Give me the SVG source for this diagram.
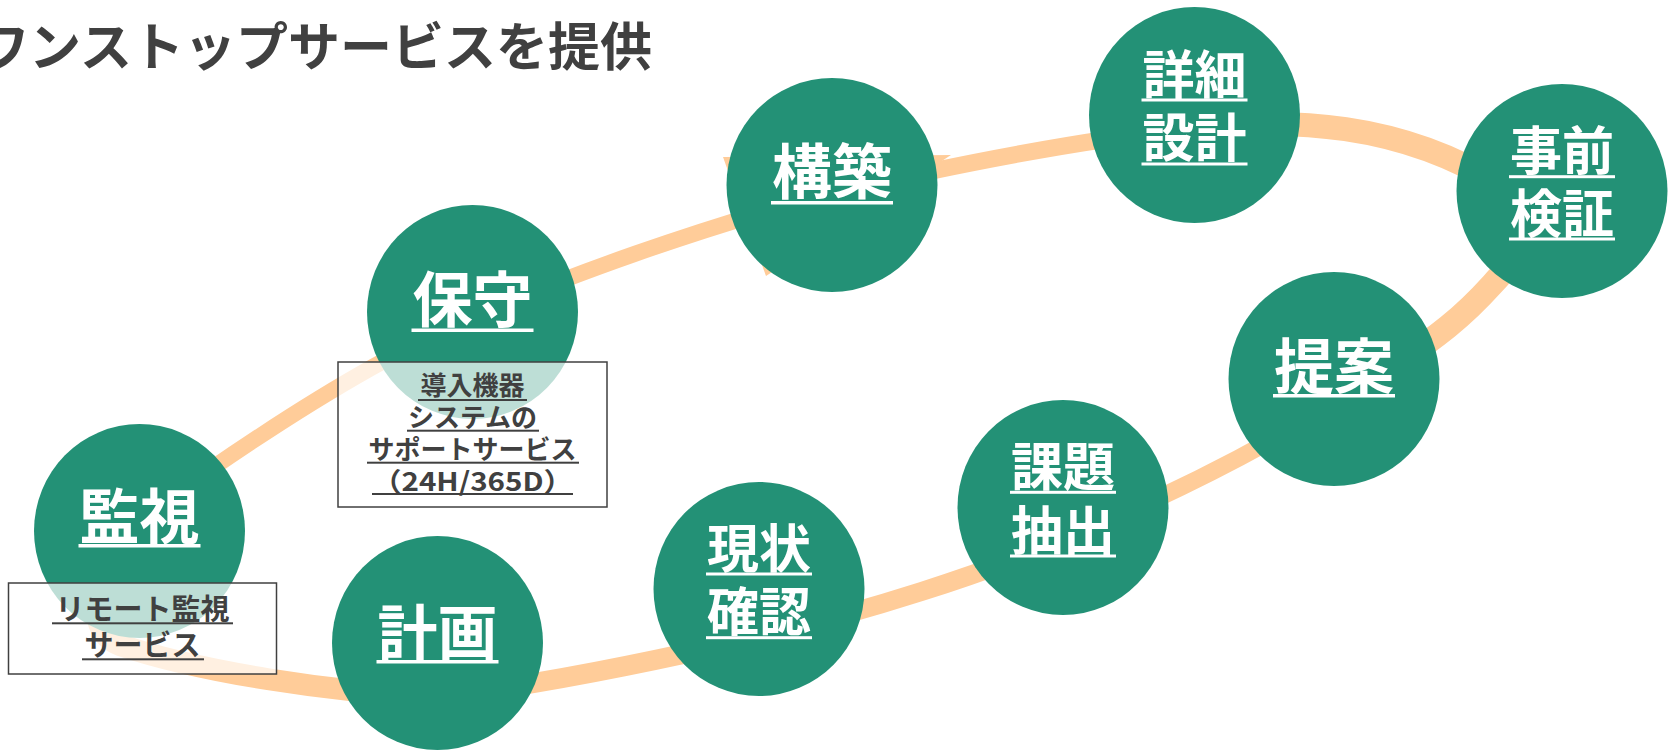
<svg xmlns="http://www.w3.org/2000/svg" width="1668" height="750" viewBox="0 0 1668 750">
<style>
.band{fill:none;stroke:#FFCC99;stroke-linecap:round;stroke-linejoin:round}
.head{fill:#FFCC99}
.disc{fill:#239176}
.lab{font-family:'Noto Sans CJK JP','Noto Sans',sans-serif;font-weight:700;fill:#FFFFFF;text-anchor:middle}
.lg{font-size:60px}
.md{font-size:52px}
.ul{fill:#FFFFFF}
.box{fill:#FFFFFF;fill-opacity:0.7;stroke:#404040;stroke-width:1.5}
.note{font-family:'Noto Sans CJK JP','Noto Sans',sans-serif;font-weight:700;fill:#404040;text-anchor:middle}
.nul{fill:#404040}
.title{font-family:'Noto Sans CJK JP','Noto Sans',sans-serif;font-weight:700;font-size:52px;fill:#404040}
</style>
<rect width="1668" height="750" fill="#FFFFFF"/>
<g id="connectors">
<polygon class="head" points="723,157 951,155 766,276"/>
<path class="band" stroke-width="16" d="M150 512 C250 440 370 360 472 318"/>
<path class="band" stroke-width="16" d="M472 318 C560 278 700 228 832 193"/>
<path class="band" stroke-width="17" d="M832 193 C940 168 1080 140 1194 128"/>
<path class="band" stroke-width="24" d="M1194 128 C1290 118 1400 122 1500 185 C1535 207 1522 252 1498 278 C1475 303 1455 330 1340 400"/>
<path class="band" stroke-width="17" d="M1340 400 C1260 450 1160 500 1063 540"/>
<path class="band" stroke-width="19" d="M1063 540 C980 575 870 610 759 637"/>
<path class="band" stroke-width="20" d="M759 637 C660 660 540 685 437 697"/>
<path class="band" stroke-width="22" d="M437 697 C330 692 200 672 120 645 C80 631 90 555 150 512"/>
</g>
<g id="node-kanshi">
<ellipse class="disc" cx="139.5" cy="531" rx="105.5" ry="107"/>
<text class="lab lg" x="139.5" y="539">監視</text>
<rect class="ul" x="78.5" y="544" width="122" height="3.5"/>
</g>
<g id="node-hoshu">
<ellipse class="disc" cx="472.5" cy="312" rx="105.5" ry="107"/>
<text class="lab lg" x="472.5" y="322">保守</text>
<rect class="ul" x="411.5" y="328.5" width="122" height="3.5"/>
</g>
<g id="node-kouchiku">
<ellipse class="disc" cx="832" cy="185" rx="105.5" ry="107"/>
<text class="lab lg" x="832" y="193.5">構築</text>
<rect class="ul" x="771" y="201" width="122" height="3.5"/>
</g>
<g id="node-shousai">
<ellipse class="disc" cx="1194.5" cy="115" rx="105.5" ry="108"/>
<text class="lab md" x="1194.5" y="93.5">詳細</text>
<rect class="ul" x="1141.5" y="98.5" width="106" height="3"/>
<text class="lab md" x="1194.5" y="157">設計</text>
<rect class="ul" x="1141.5" y="162.5" width="106" height="3"/>
</g>
<g id="node-jizen">
<ellipse class="disc" cx="1562" cy="191" rx="105.5" ry="107"/>
<text class="lab md" x="1562" y="170">事前</text>
<rect class="ul" x="1509" y="175.2" width="106" height="3"/>
<text class="lab md" x="1562" y="232.5">検証</text>
<rect class="ul" x="1509" y="237.5" width="106" height="3"/>
</g>
<g id="node-teian">
<ellipse class="disc" cx="1334" cy="379" rx="105.5" ry="107"/>
<text class="lab lg" x="1334" y="388.5">提案</text>
<rect class="ul" x="1273" y="394" width="122" height="3.5"/>
</g>
<g id="node-kadai">
<ellipse class="disc" cx="1063" cy="507.5" rx="105.5" ry="107.5"/>
<text class="lab md" x="1063" y="485.7">課題</text>
<rect class="ul" x="1010" y="490.8" width="106" height="3"/>
<text class="lab md" x="1063" y="549.7">抽出</text>
<rect class="ul" x="1010" y="554.5" width="106" height="3"/>
</g>
<g id="node-genjou">
<ellipse class="disc" cx="759" cy="589" rx="105.5" ry="107"/>
<text class="lab md" x="759" y="568">現状</text>
<rect class="ul" x="706" y="572.5" width="106" height="3"/>
<text class="lab md" x="759" y="631">確認</text>
<rect class="ul" x="706" y="636.2" width="106" height="3"/>
</g>
<g id="node-keikaku">
<ellipse class="disc" cx="437.5" cy="643" rx="105.5" ry="107"/>
<text class="lab lg" x="437.5" y="655">計画</text>
<rect class="ul" x="376.5" y="660" width="122" height="3.5"/>
</g>
<g id="note-hoshu">
<rect class="box" x="338" y="362" width="269" height="145"/>
<text class="note" x="472.5" y="395" font-size="26">導入機器</text>
<rect class="nul" x="418" y="399" width="109" height="2"/>
<text class="note" x="472.5" y="427" font-size="26">システムの</text>
<rect class="nul" x="407" y="429.7" width="132" height="2"/>
<text class="note" x="472.5" y="459" font-size="26">サポートサービス</text>
<rect class="nul" x="367" y="461.7" width="212" height="2"/>
<text class="note" x="472.5" y="491" font-size="26" textLength="201" lengthAdjust="spacingAndGlyphs">（24H/365D）</text>
<rect class="nul" x="372" y="493" width="201" height="2"/>
</g>
<g id="note-kanshi">
<rect class="box" x="8.5" y="583" width="268" height="91"/>
<text class="note" x="142.5" y="619.7" font-size="29">リモート監視</text>
<rect class="nul" x="52" y="622.3" width="181" height="2"/>
<text class="note" x="142.5" y="656" font-size="29">サービス</text>
<rect class="nul" x="82" y="658.3" width="122" height="2"/>
</g>
<g id="title">
<text class="title" x="-23" y="66">ワンストップサービスを提供</text>
</g>
</svg>
